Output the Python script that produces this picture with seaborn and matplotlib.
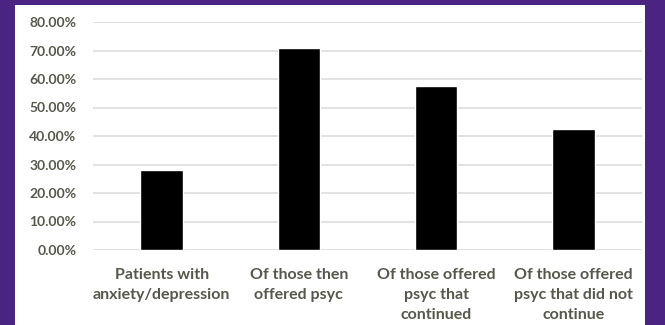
import matplotlib
matplotlib.use("Agg")
import matplotlib.pyplot as plt
from matplotlib.patches import Rectangle
from matplotlib.ticker import PercentFormatter
import seaborn as sns
import pandas as pd

categories = [
    "Patients with\nanxiety/depression",
    "Of those then\noffered psyc",
    "Of those offered\npsyc that\ncontinued",
    "Of those offered\npsyc that did not\ncontinue",
]
values = [28.0, 71.0, 57.5, 42.5]
y_ticks = [0, 10, 20, 30, 40, 50, 60, 70, 80]

df = pd.DataFrame({"group": categories, "share": values})

sns.set_theme(style="white")
plt.rcParams["font.family"] = ["Lato", "DejaVu Sans"]

W, H, DPI = 665, 325, 100
PURPLE = "#4b2483"
TEXT = "#55584a"

fig = plt.figure(figsize=(W / DPI, H / DPI), dpi=DPI, facecolor=PURPLE)
# white card behind the chart
fig.patches.append(Rectangle((15 / W, 0), (645 - 15) / W, (H - 5) / H,
                             transform=fig.transFigure, facecolor="white",
                             edgecolor="none", zorder=-5))

ax = fig.add_axes([93 / W, (H - 250) / H, (642 - 93) / W, (250 - 22) / H])
ax.set_facecolor("none")
ax.set_zorder(2)

sns.barplot(data=df, x="group", y="share", color="black", width=0.31,
            saturation=1, ax=ax, zorder=3)

ax.set_ylim(0, 80)
ax.set_yticks(y_ticks)
ax.yaxis.set_major_formatter(PercentFormatter(decimals=2))
ax.grid(axis="y", color="#dcdad8", linewidth=1.1, zorder=0)
ax.set_axisbelow(True)
for s in ax.spines.values():
    s.set_visible(False)

ax.set_xlabel("")
ax.set_ylabel("")
ax.tick_params(axis="y", length=0, pad=12, labelsize=10, labelcolor=TEXT)
ax.tick_params(axis="x", length=0, pad=13, labelsize=11.5, labelcolor=TEXT)
for lab in ax.get_yticklabels() + ax.get_xticklabels():
    lab.set_fontweight("bold")
for lab in ax.get_xticklabels():
    lab.set_linespacing(1.55)
    lab.set_verticalalignment("top")

fig.savefig("out.png", dpi=DPI, facecolor=PURPLE)
